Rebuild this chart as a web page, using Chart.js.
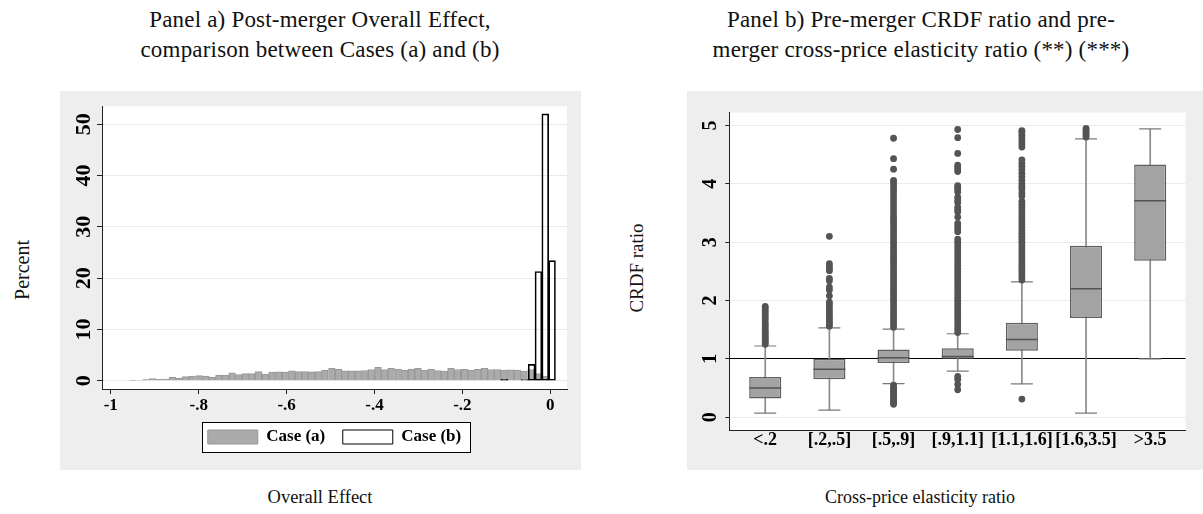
<!DOCTYPE html>
<html><head><meta charset="utf-8">
<script src="https://cdn.jsdelivr.net/npm/chart.js@4"></script>
<style>
body{margin:0;width:1203px;height:514px;background:#fff;position:relative;overflow:hidden;font-family:'Liberation Serif',serif;color:#111;}
.t{position:absolute;font-size:23px;letter-spacing:0.2px;line-height:30px;text-align:center;white-space:nowrap;transform:translateX(-50%);}
.panel{position:absolute;background:#eeeeee;}
.panel canvas{display:block;}
.ax{position:absolute;font-size:18px;white-space:nowrap;transform:translate(-50%,-50%);}
.rot{transform:translate(-50%,-50%) rotate(-90deg);}
</style></head><body>
<div class="t" style="left:320px;top:5px">Panel a) Post-merger Overall Effect,<br>comparison between Cases (a) and (b)</div>
<div class="t" style="left:921px;top:5px">Panel b) Pre-merger CRDF ratio and pre-<br>merger cross-price elasticity ratio (**) (***)</div>
<div class="panel" style="left:60px;top:91px;width:521px;height:379px"><canvas id="c1" width="521" height="379"></canvas></div>
<div class="panel" style="left:687px;top:91px;width:516px;height:379px"><canvas id="c2" width="516" height="379"></canvas></div>
<div class="ax rot" style="left:22px;top:270px;font-size:20px">Percent</div>
<div class="ax" style="left:320px;top:497px;font-size:18.5px">Overall Effect</div>
<div class="ax rot" style="left:637px;top:268px;font-size:19px">CRDF ratio</div>
<div class="ax" style="left:920px;top:497px">Cross-price elasticity ratio</div>
<script>
// ---------- Panel a data (histogram) ----------
const histBinCenters = [-0.950,-0.935,-0.920,-0.905,-0.890,-0.875,-0.860,-0.845,-0.830,-0.815,
  -0.799,-0.784,-0.769,-0.754,-0.739,-0.724,-0.709,-0.694,-0.679,-0.664,
  -0.648,-0.633,-0.618,-0.603,-0.588,-0.573,-0.558,-0.543,-0.528,-0.513,
  -0.497,-0.482,-0.467,-0.452,-0.437,-0.422,-0.407,-0.392,-0.377,-0.362,
  -0.346,-0.331,-0.316,-0.301,-0.286,-0.271,-0.256,-0.241,-0.226,-0.211,
  -0.195,-0.180,-0.165,-0.150,-0.135,-0.120,-0.105,-0.090,-0.075,-0.060,
  -0.044,-0.029,-0.014,0.001];
const caseAPercent = [0.05,0.1,0.25,0.45,0.3,0.35,0.65,0.5,0.8,0.9,
  1.0,0.9,0.7,1.1,1.1,1.55,1.2,1.4,1.4,1.8,
  1.3,1.7,1.75,1.7,1.95,1.8,1.8,1.75,1.8,2.05,
  2.45,2.25,1.95,1.95,1.95,2.0,2.2,2.6,2.2,2.45,
  2.3,2.05,2.3,2.45,2.05,2.3,2.0,1.9,2.45,2.2,
  2.25,2.05,2.25,2.45,2.2,2.2,2.1,2.15,2.1,1.9,
  2.2,1.4,0.9,0.25];
const caseBBinCenters = [-0.1045,-0.058,-0.0425,-0.027,-0.0115,0.004];
const caseBPercent = [0.3,0.25,3.2,21.3,52.0,23.4];
const histXTicks = [-1,-0.8,-0.6,-0.4,-0.2,0];
const histXTickLabels = ['-1','-.8','-.6','-.4','-.2','0'];
const histYTicks = [0,10,20,30,40,50];

// ---------- Panel b data (box plot) ----------
const categories = ['<.2','[.2,.5]','[.5,.9]','[.9,1.1]','[1.1,1.6]','[1.6,3.5]','>3.5'];
const q1 = [0.32,0.65,0.93,1.00,1.14,1.70,2.68];
const median = [0.50,0.82,1.02,1.04,1.33,2.20,3.71];
const q3 = [0.69,1.00,1.16,1.18,1.62,2.94,4.33];
const whiskerLow = [0.07,0.12,0.575,0.79,0.57,0.07,1.00];
const whiskerHigh = [1.22,1.53,1.51,1.43,2.32,4.77,4.94];
const outliers = [
  [1.25,1.28,1.31,1.34,1.37,1.41,1.44,1.47,1.51,1.55,1.58,1.62,1.67,1.71,1.75,1.79,1.83,1.87,1.9],
  [1.56,1.6,1.63,1.67,1.71,1.75,1.8,1.84,1.89,1.93,1.97,2.08,2.18,2.23,2.34,2.38,2.51,2.55,2.59,2.63,3.1],
  [0.22,0.25,0.28,0.31,0.34,0.37,0.4,0.43,0.46,0.49,0.52,0.55,
   1.54,1.59,1.64,1.69,1.74,1.79,1.84,1.89,1.94,1.99,2.04,2.09,2.14,2.19,2.24,2.29,2.34,2.39,2.44,2.49,
   2.54,2.59,2.64,2.69,2.74,2.79,2.84,2.89,2.94,2.99,3.04,3.09,3.14,3.19,3.24,3.29,3.34,3.39,3.44,3.5,
   3.56,3.62,3.68,3.74,3.8,3.86,3.92,3.97,4.02,4.06,4.25,4.43,4.78],
  [0.47,0.56,0.65,0.7,
   1.45,1.5,1.55,1.6,1.65,1.7,1.75,1.8,1.85,1.9,1.95,2.0,2.05,2.1,2.15,2.2,2.25,2.3,2.35,2.4,2.45,2.5,
   2.55,2.6,2.65,2.7,2.75,2.8,2.85,2.9,2.95,3.0,3.05,3.18,3.23,3.28,3.32,3.43,3.52,3.56,3.6,3.68,3.72,
   3.77,3.86,3.9,3.94,3.97,4.21,4.25,4.29,4.32,4.52,4.79,4.93],
  [0.31,
   2.35,2.4,2.45,2.5,2.55,2.6,2.65,2.7,2.75,2.8,2.85,2.9,2.95,3.0,3.05,3.1,3.15,3.2,3.25,3.3,3.35,3.4,
   3.45,3.5,3.55,3.6,3.65,3.7,3.79,3.84,3.9,3.95,4.0,4.06,4.12,4.18,4.24,4.3,4.35,4.41,
   4.63,4.68,4.73,4.78,4.83,4.88,4.91],
  [4.8,4.83,4.86,4.89,4.92,4.95],
  []
];
const boxYTicks = [0,1,2,3,4,5];

Chart.defaults.font.family = "'Liberation Serif', serif";
Chart.defaults.color = '#000';

const plotBg = {
  id: 'plotBg',
  beforeDraw(chart) {
    const {ctx, chartArea: a} = chart;
    ctx.save();
    ctx.fillStyle = '#fff';
    ctx.fillRect(a.left, a.top, a.right - a.left, a.bottom - a.top);
    const lg = chart.legend;
    if (lg && lg.options.display && lg.legendHitBoxes && lg.legendHitBoxes.length) {
      const hb = lg.legendHitBoxes;
      const first = hb[0], last = hb[hb.length - 1];
      const cy = first.top + first.height / 2;
      const x0 = Math.round(first.left - 6), x1 = Math.round(last.left + last.width + 9);
      const y0 = Math.round(cy - 15);
      ctx.fillStyle = '#fff';
      ctx.fillRect(x0, y0, x1 - x0, 30);
      ctx.strokeStyle = '#000';
      ctx.lineWidth = 1;
      ctx.strokeRect(x0 + 0.5, y0 + 0.5, x1 - x0, 30);
    }
    ctx.restore();
  }
};

const gridCol = '#e3eded';
const axCol = '#222';

new Chart(document.getElementById('c1'), {
  type: 'bar',
  data: { datasets: [
    { label: 'Case (a)', xAxisID: 'x', order: 2,
      data: histBinCenters.map((x, i) => ({x: x, y: caseAPercent[i]})),
      backgroundColor: '#ababab', borderColor: '#979797', borderWidth: 1,
      barPercentage: 1, categoryPercentage: 1, grouped: false },
    { label: 'Case (b)', xAxisID: 'x2', order: 1,
      data: caseBBinCenters.map((x, i) => ({x: x, y: caseBPercent[i]})),
      backgroundColor: 'rgba(255,255,255,0)', borderColor: '#000', borderWidth: 1, borderSkipped: false,
      barPercentage: 1, categoryPercentage: 1, grouped: false }
  ]},
  options: {
    responsive: false, animation: false, devicePixelRatio: 1,
    layout: { padding: {top: 14, right: 14, bottom: 14.5, left: 0} },
    plugins: {
      legend: { position: 'bottom', fullSize: false,
        labels: { boxWidth: 50, boxHeight: 14, padding: 17.5, color: '#000',
          font: {size: 17, weight: 'bold'}, sort: (a, b) => a.datasetIndex - b.datasetIndex } },
      tooltip: { enabled: false }
    },
    scales: {
      x: { type: 'linear', position: 'bottom', min: -1.02, max: 0.038, offset: false,
        afterBuildTicks: s => { s.ticks = histXTicks.map(v => ({value: v})); },
        afterFit: s => { s.height = 22; },
        ticks: { callback: (v, i) => histXTickLabels[i], maxRotation: 0, autoSkip: false, padding: 1.5,
          font: {size: 17, weight: 'bold'}, color: '#000' },
        grid: { offset: false, drawOnChartArea: false, drawTicks: true, tickLength: 5, tickColor: axCol },
        border: { display: true, color: axCol, width: 1 } },
      x2: { type: 'linear', display: false, min: -1.02, max: 0.038, offset: false, grid: { offset: false } },
      y: { min: -1.6, max: 53.5,
        afterBuildTicks: s => { s.ticks = histYTicks.map(v => ({value: v})); },
        afterFit: s => { s.width = 42; },
        ticks: { minRotation: 90, maxRotation: 90, crossAlign: 'center', padding: 2,
          font: {size: 22, weight: 'bold'}, color: '#000', callback: v => String(v) },
        grid: { color: gridCol, tickColor: axCol, tickLength: 5 },
        border: { display: true, color: axCol, width: 1 } }
    }
  },
  plugins: [plotBg]
});

const boxX = categories.map((c, i) => i + 1);
new Chart(document.getElementById('c2'), {
  type: 'bar',
  data: { datasets: [
    { type: 'bar', label: 'whiskers', order: 5,
      data: boxX.map((x, i) => ({x: x, y: [whiskerLow[i], whiskerHigh[i]]})),
      backgroundColor: '#8a8a8a', barThickness: 1, grouped: false },
    { type: 'bar', label: 'boxes', order: 4,
      data: boxX.map((x, i) => ({x: x, y: [q1[i], q3[i]]})),
      backgroundColor: '#a3a3a3', borderColor: '#5f5f5f', borderWidth: 1.5, borderSkipped: false,
      barPercentage: 0.5, categoryPercentage: 1, grouped: false },
    { type: 'scatter', label: 'caps', order: 3,
      data: boxX.flatMap((x, i) => [{x: x, y: whiskerLow[i]}, {x: x, y: whiskerHigh[i]}]),
      pointStyle: 'line', pointRadius: 11, pointBorderColor: '#7a7a7a', pointBorderWidth: 1.2 },
    { type: 'scatter', label: 'medians', order: 2,
      data: boxX.map((x, i) => ({x: x, y: median[i]})),
      pointStyle: 'line', pointRadius: 16, pointBorderColor: '#555', pointBorderWidth: 1.5 },
    { type: 'scatter', label: 'outliers', order: 1,
      data: outliers.flatMap((arr, i) => arr.map(v => ({x: boxX[i], y: v}))),
      pointStyle: 'circle', pointRadius: 3.4, pointBackgroundColor: '#545454', pointBorderWidth: 0 }
  ]},
  options: {
    responsive: false, animation: false, devicePixelRatio: 1,
    layout: { padding: {top: 14, right: 9, bottom: 18, left: 0} },
    plugins: { legend: { display: false }, tooltip: { enabled: false } },
    scales: {
      x: { type: 'linear', min: 0.44, max: 7.55, offset: false,
        afterBuildTicks: s => { s.ticks = boxX.map(v => ({value: v})); },
        afterFit: s => { s.height = 22; },
        ticks: { callback: (v, i) => categories[i], maxRotation: 0, autoSkip: false, padding: 0,
          font: {size: 18, weight: 'bold'}, color: '#000' },
        grid: { offset: false, display: false, drawTicks: false },
        border: { display: true, color: axCol, width: 1 } },
      y: { min: -0.22, max: 5.22,
        afterBuildTicks: s => { s.ticks = boxYTicks.map(v => ({value: v})); },
        afterFit: s => { s.width = 42.3; },
        ticks: { minRotation: 90, maxRotation: 90, crossAlign: 'center', padding: 9.6,
          font: {size: 20, weight: 'bold'}, color: '#000', callback: v => String(v) },
        grid: { color: c => (c.tick && c.tick.value === 1) ? '#000' : gridCol, tickColor: axCol, tickLength: 4 },
        border: { display: true, color: axCol, width: 1 } }
    }
  },
  plugins: [plotBg]
});
</script>
</body></html>
